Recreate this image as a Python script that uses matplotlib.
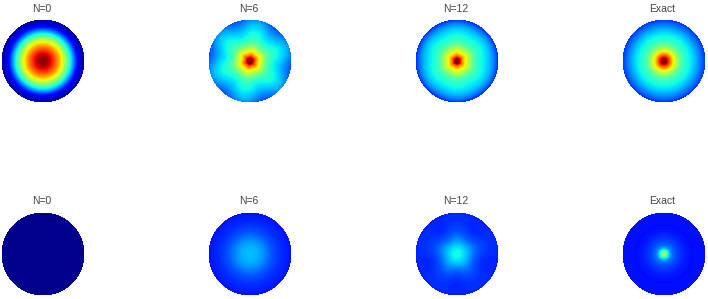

import matplotlib

matplotlib.use("Agg")
import matplotlib.pyplot as plt
import numpy as np

W, H = 708, 299
N_THETA = 120

titles = ["N=0", "N=6", "N=12", "Exact"]
radii = [0, 0.05, 0.1, 0.15, 0.2, 0.3, 0.4, 0.5, 0.6, 0.7, 0.8, 0.9, 1.0]

top_n0 = [0.98, 0.98, 0.96, 0.93, 0.89, 0.80, 0.70, 0.58, 0.45, 0.31, 0.16, 0.07, 0.02]
top_n6_ridge = [1.0, 0.97, 0.85, 0.76, 0.68, 0.57, 0.47, 0.42, 0.39, 0.37, 0.34, 0.31, 0.26]
top_n6_trough = [1.0, 0.96, 0.82, 0.72, 0.65, 0.54, 0.45, 0.39, 0.35, 0.32, 0.28, 0.24, 0.20]
top_n12_ridge = [1.0, 0.97, 0.82, 0.73, 0.66, 0.56, 0.46, 0.41, 0.38, 0.35, 0.31, 0.25, 0.17]
top_n12_trough = [1.0, 0.95, 0.79, 0.70, 0.63, 0.54, 0.45, 0.40, 0.37, 0.34, 0.30, 0.24, 0.16]
top_exact = [1.0, 0.97, 0.86, 0.76, 0.68, 0.55, 0.45, 0.40, 0.37, 0.33, 0.28, 0.23, 0.17]

bot_n0 = [0.01] * 13
bot_n6 = [0.31, 0.31, 0.30, 0.30, 0.29, 0.27, 0.24, 0.21, 0.19, 0.17, 0.16, 0.15, 0.14]
bot_n12_ridge = [0.37, 0.37, 0.36, 0.34, 0.32, 0.28, 0.24, 0.21, 0.19, 0.18, 0.17, 0.17, 0.16]
bot_n12_trough = [0.37, 0.37, 0.36, 0.34, 0.32, 0.27, 0.22, 0.19, 0.17, 0.16, 0.16, 0.16, 0.15]
bot_exact = [0.55, 0.48, 0.34, 0.27, 0.23, 0.19, 0.17, 0.15, 0.14, 0.13, 0.14, 0.14, 0.14]

# (ridge, trough, lobes, ridge angle in degrees), row by row
panels = [
    [(top_n0, top_n0, 0, 0), (top_n6_ridge, top_n6_trough, 6, 20),
     (top_n12_ridge, top_n12_trough, 6, 30), (top_exact, top_exact, 0, 0)],
    [(bot_n0, bot_n0, 0, 0), (bot_n6, bot_n6, 0, 0),
     (bot_n12_ridge, bot_n12_trough, 5, 90), (bot_exact, bot_exact, 0, 0)],
]
centers_x = [43, 250, 457, 664]
centers_y = [61, 254]
title_x = [42, 249, 455.5, 662]
title_y = [9.5, 201.5]
radius_px = 41


def disk_field(ridge, trough, lobes, phase, theta):
    ridge = np.asarray(ridge)
    trough = np.asarray(trough)
    # 0 on the trough, 1 on the ridge
    w = 0.5 + 0.5 * np.cos(lobes * (theta - np.deg2rad(phase)))
    return np.outer(ridge, w) + np.outer(trough, 1 - w)


def main() -> None:
    fig = plt.figure(figsize=(W / 100, H / 100), dpi=100)
    ax = fig.add_axes([0, 0, 1, 1])
    ax.set_xlim(0, W)
    ax.set_ylim(H, 0)
    ax.axis("off")

    theta = np.linspace(0, 2 * np.pi, N_THETA + 1)
    r = np.array(radii)
    levels = np.linspace(0, 1, 129)
    for row, cy in enumerate(centers_y):
        for col, cx in enumerate(centers_x):
            ridge, trough, lobes, phase = panels[row][col]
            z = disk_field(ridge, trough, lobes, phase, theta)
            xx = cx + radius_px * np.outer(r, np.cos(theta))
            yy = cy - radius_px * np.outer(r, np.sin(theta))
            ax.contourf(xx, yy, z, levels=levels, cmap="jet", vmin=0, vmax=1)
            ax.text(title_x[col], title_y[row], titles[col], ha="center", va="center",
                    fontsize=7.5, family="Liberation Sans", color="#444444")

    fig.savefig("out.png", dpi=100)


if __name__ == "__main__":
    main()
